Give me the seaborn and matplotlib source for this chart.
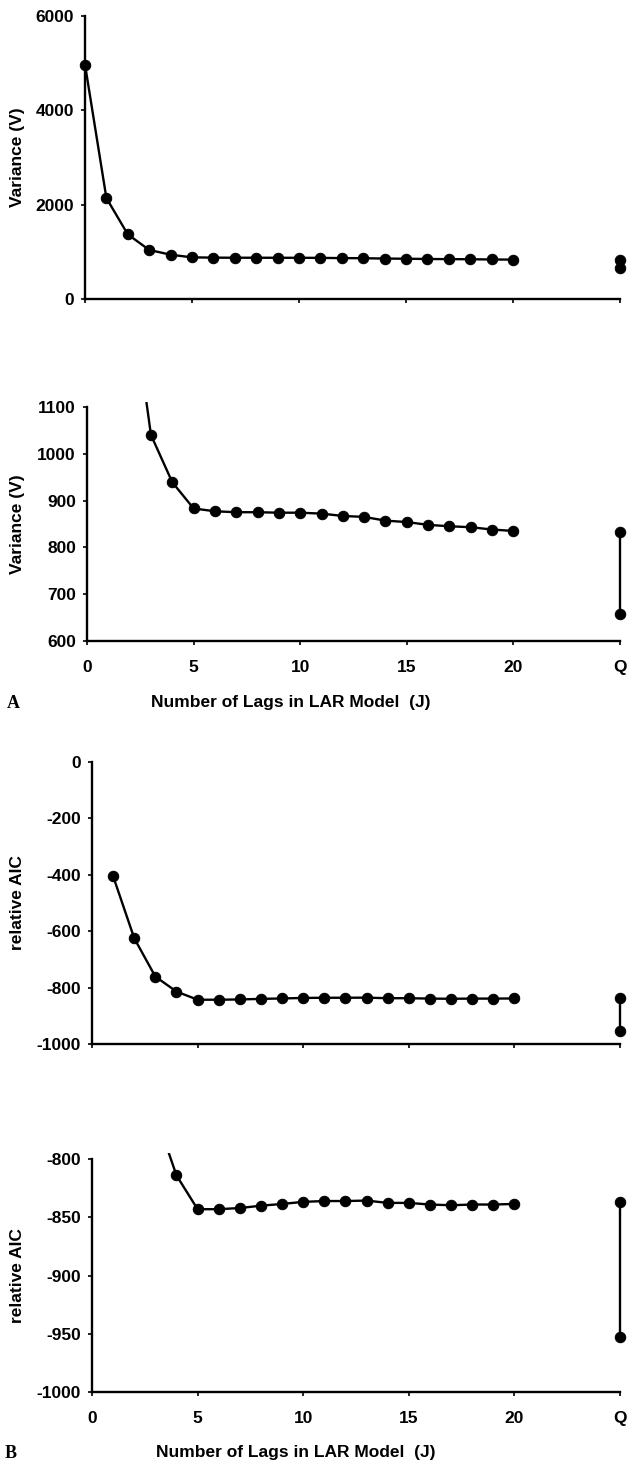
import numpy as np
import pandas as pd
import matplotlib
matplotlib.use("Agg")
import matplotlib.pyplot as plt
import seaborn as sns

sns.set_style("ticks", {'axes.edgecolor': 'black', 'text.color': 'black',
                        'axes.labelcolor': 'black', 'xtick.color': 'black',
                        'ytick.color': 'black'})
plt.rcParams['font.family'] = ['Liberation Sans', 'DejaVu Sans']
plt.rcParams['font.weight'] = 'bold'
plt.rcParams['axes.unicode_minus'] = False

# data
lags = list(range(0, 21))
variance = [4970, 2140, 1370, 1040, 939, 883, 877, 875, 875, 874, 874, 872,
            867, 865, 857, 854, 848, 845, 843, 838, 835]
variance_q = [833, 658]

aic_lags = list(range(1, 21))
aic = [-405, -625, -761, -814, -843, -843, -842, -840, -838.5, -836.7, -836,
       -836, -835.6, -837.6, -837.6, -839, -839.6, -839, -839, -838.5]
aic_q = [-837, -953]

q_pos = 25
x_ticks = [0, 5, 10, 15, 20, 25]
x_ticklabels = ['0', '5', '10', '15', '20', 'Q']
xlabel = 'Number of Lags in LAR Model  (J)'

W, H = 632, 1462
FS = 12.5
fig = plt.figure(figsize=(W / 100, H / 100), dpi=100)


def px_axes(left, top, right, bottom):
    return fig.add_axes([left / W, 1 - bottom / H, (right - left) / W, (bottom - top) / H])


def draw_panel(ax, x, y, yq, ylim, yticks, spine_bounds, ylabel, clip, show_xlabels, label_x_px):
    df = pd.DataFrame({'J': x, 'val': y})
    dq = pd.DataFrame({'J': [q_pos] * len(yq), 'val': yq})
    style = dict(color='black', marker='o', markersize=7.5, linewidth=1.7,
                 markeredgecolor='black', estimator=None, sort=False)
    sns.lineplot(data=df, x='J', y='val', ax=ax, clip_on=clip, **style)
    sns.lineplot(data=dq, x='J', y='val', ax=ax, clip_on=False, **style)
    ax.set_xlim(0, q_pos)
    ax.set_ylim(*ylim)
    ax.set_yticks(yticks)
    ax.set_yticklabels([str(t) for t in yticks])
    ax.set_xticks(x_ticks)
    ax.set_xticklabels(x_ticklabels if show_xlabels else [])
    sns.despine(ax=ax)
    ax.spines['left'].set_bounds(*spine_bounds)
    ax.spines['bottom'].set_bounds(0, q_pos)
    for s in ['left', 'bottom']:
        ax.spines[s].set_linewidth(1.7)
        ax.spines[s].set_color('black')
    ax.tick_params(axis='y', length=3, width=1.2, pad=5, labelsize=FS, colors='black')
    ax.tick_params(axis='x', length=3, width=1.2, pad=11, labelsize=FS, colors='black')
    for t in ax.get_xticklabels() + ax.get_yticklabels():
        t.set_fontweight('bold')
    ax.set_xlabel('')
    ax.set_ylabel(ylabel, fontsize=FS, fontweight='bold', color='black')
    # y label centred on the drawn spine
    y0, y1 = ax.get_ylim()
    ymid = (spine_bounds[0] + spine_bounds[1]) / 2
    bbox = ax.get_position()
    ax.yaxis.set_label_coords((label_x_px / W - bbox.x0) / bbox.width,
                              (ymid - y0) / (y1 - y0))


ax1 = px_axes(85, 16, 620, 299)
draw_panel(ax1, lags, variance, variance_q, (0, 6000), [0, 2000, 4000, 6000],
           (0, 6000), 'Variance (V)', False, False, 25)

ax2 = px_axes(87, 401.7, 620, 641)
draw_panel(ax2, lags, variance, variance_q, (600, 1111), [600, 700, 800, 900, 1000, 1100],
           (600, 1100), 'Variance (V)', True, True, 25)

ax3 = px_axes(92, 762, 620, 1044)
draw_panel(ax3, aic_lags, aic, aic_q, (-1000, 0), [-1000, -800, -600, -400, -200, 0],
           (-1000, 0), 'relative AIC', False, False, 25)

ax4 = px_axes(92, 1153.3, 620, 1392)
draw_panel(ax4, aic_lags, aic, aic_q, (-1000, -795), [-1000, -950, -900, -850, -800],
           (-1000, -800), 'relative AIC', True, True, 25)

fig.text(291 / W, 1 - 703 / H, xlabel, ha='center', va='center', fontsize=FS,
         fontweight='bold', color='black')
fig.text(296 / W, 1 - 1453 / H, xlabel, ha='center', va='center', fontsize=FS,
         fontweight='bold', color='black')
fig.text(13 / W, 1 - 703 / H, 'A', ha='center', va='center', fontsize=13, fontweight='bold',
         color='black', family=['Liberation Serif', 'DejaVu Serif'])
fig.text(11 / W, 1 - 1453 / H, 'B', ha='center', va='center', fontsize=13, fontweight='bold',
         color='black', family=['Liberation Serif', 'DejaVu Serif'])

fig.savefig('out.png', dpi=100)
